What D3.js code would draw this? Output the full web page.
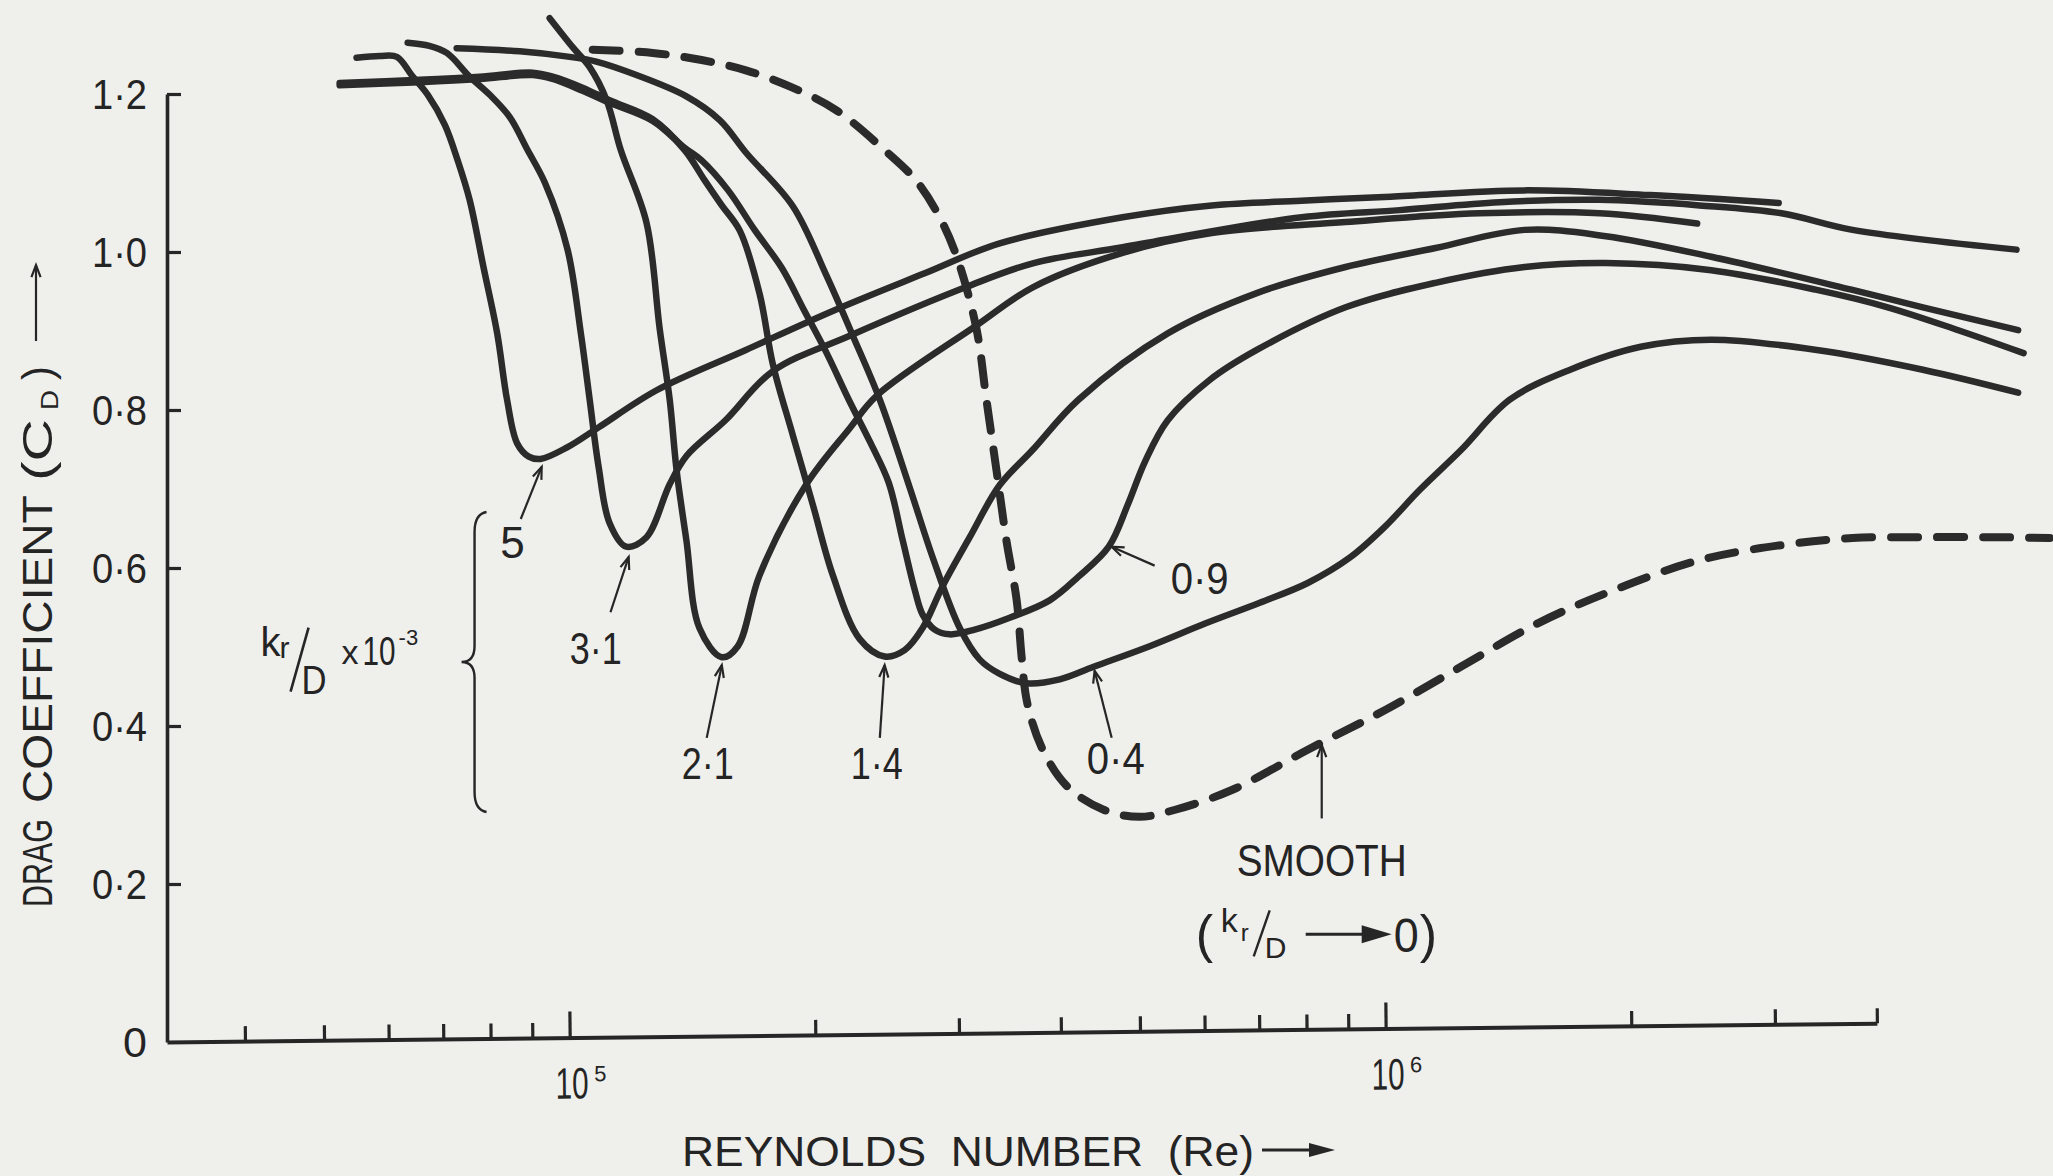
<!DOCTYPE html>
<html>
<head>
<meta charset="utf-8">
<title>Drag coefficient vs Reynolds number</title>
<script src="https://cdn.jsdelivr.net/npm/d3@7"></script>
<style>
  html, body { margin: 0; background: #efefec; }
  svg { display: block; }
  text { font-family: "Liberation Sans", Arial, sans-serif; fill: #242424; }
</style>
</head>
<body>
<div id="chart"></div>
<script>
// Drag coefficient of rough circular cylinders against Reynolds number.
// Points were read off a scanned figure, so they are approximate.

const cdTicks = [0, 0.2, 0.4, 0.6, 0.8, 1.0, 1.2];
const reMinorTicks = [4e4, 5e4, 6e4, 7e4, 8e4, 9e4, 2e5, 3e5, 4e5, 5e5, 6e5, 7e5, 8e5, 9e5, 2e6, 3e6, 4e6];
const reMajorTicks = [1e5, 1e6];
const reExtent = [32100, 4e6];
const cdExtent = [0, 1.2];

// k_r/D x 10^-3, one solid curve each
const roughness = ["5", "3·1", "2·1", "1·4", "0·9", "0·4"];

// [Re, CD]
const kd50 = [
  [54800, 1.246], [58500, 1.248], [61400, 1.247], [64000, 1.224], [67000, 1.199],
  [70300, 1.161], [72900, 1.116], [75400, 1.066], [78400, 0.981], [81500, 0.897],
  [83800, 0.813], [86200, 0.758], [89100, 0.741], [92100, 0.738], [99400, 0.753],
  [108500, 0.778], [127800, 0.825], [164400, 0.876], [211800, 0.927], [272300, 0.973],
  [336500, 1.011], [476000, 1.044], [612000, 1.059], [788000, 1.065], [1014000, 1.070],
  [1479000, 1.078], [2106000, 1.072], [3031000, 1.062]
];
const kd31 = [
  [63300, 1.265], [67300, 1.261], [70700, 1.252], [75400, 1.222], [79800, 1.199],
  [84400, 1.171], [88800, 1.129], [93300, 1.087], [99400, 1.003], [103200, 0.897],
  [105800, 0.813], [108500, 0.728], [111900, 0.657], [117300, 0.627], [124200, 0.639],
  [132600, 0.706], [139100, 0.742], [155200, 0.787], [177300, 0.849], [220400, 0.894],
  [306600, 0.956], [370400, 0.986], [476000, 1.006], [788900, 1.044], [1040000, 1.053],
  [1379000, 1.063], [1828000, 1.066], [2425000, 1.059], [3055000, 1.049], [3733000, 1.028],
  [5929000, 1.003]
];
const kd21 = [
  [94500, 1.296], [100900, 1.259], [105800, 1.234], [111000, 1.192], [115500, 1.129],
  [124200, 1.037], [128900, 0.903], [132600, 0.813], [135200, 0.724], [139000, 0.635],
  [144200, 0.524], [153600, 0.487], [160700, 0.501], [170900, 0.591], [195000, 0.706],
  [220400, 0.777], [237700, 0.818], [315100, 0.907], [370400, 0.956], [476000, 0.999],
  [612000, 1.024], [893000, 1.038], [1303000, 1.049], [1828000, 1.049], [2408000, 1.036]
];
const kd14 = [
  [52250, 1.214], [65520, 1.218], [77580, 1.222], [90100, 1.227], [95300, 1.222],
  [103700, 1.208], [111900, 1.192], [126400, 1.168], [138300, 1.129], [146300, 1.091],
  [153600, 1.059], [161600, 1.027], [170900, 0.947], [177400, 0.858], [187700, 0.768],
  [198600, 0.680], [210100, 0.591], [226700, 0.510], [243200, 0.488], [257300, 0.496],
  [270700, 0.524], [286400, 0.577], [309200, 0.639], [336500, 0.705], [368900, 0.749],
  [420200, 0.813], [540600, 0.897], [695000, 0.948], [893000, 0.981], [1151000, 1.005],
  [1480000, 1.028], [1861000, 1.020], [2506000, 0.994], [3733000, 0.952], [4553000, 0.930],
  [5957000, 0.901]
];
const kd09 = [
  [52250, 1.211], [65520, 1.215], [77580, 1.219], [90100, 1.224], [95300, 1.219],
  [103700, 1.204], [111900, 1.189], [126400, 1.166], [138300, 1.132], [145100, 1.116],
  [156400, 1.078], [168500, 1.028], [181900, 0.980], [193600, 0.927], [206500, 0.872],
  [219800, 0.813], [233800, 0.758], [246000, 0.708], [255900, 0.635], [264800, 0.572],
  [270700, 0.541], [280100, 0.522], [292200, 0.516], [313600, 0.522], [346100, 0.537],
  [387400, 0.559], [420200, 0.589], [457700, 0.627], [482900, 0.680], [506700, 0.734],
  [540600, 0.787], [608500, 0.838], [695000, 0.876], [893000, 0.930], [1151000, 0.961],
  [1480000, 0.981], [1861000, 0.986], [2506000, 0.977], [3375000, 0.952], [4123000, 0.930],
  [5031000, 0.901], [6049000, 0.872]
];
const kd04 = [
  [72690, 1.258], [86850, 1.254], [100000, 1.247], [107800, 1.241], [120700, 1.224],
  [139000, 1.197], [152700, 1.167], [164700, 1.125], [187700, 1.058], [206400, 0.970],
  [222300, 0.894], [239900, 0.813], [261000, 0.702], [278600, 0.613], [300600, 0.524],
  [318100, 0.484], [336500, 0.466], [363100, 0.454], [398600, 0.459], [438600, 0.475],
  [513700, 0.501], [601800, 0.530], [700900, 0.556], [802500, 0.581], [903400, 0.613],
  [997300, 0.652], [1101000, 0.699], [1236000, 0.749], [1419000, 0.813], [1683000, 0.851],
  [2054000, 0.880], [2506000, 0.889], [3375000, 0.876], [4553000, 0.851], [5957000, 0.822]
];
// smooth cylinder (k_r/D -> 0), dashed
const smooth = [
  [106700, 1.256], [126400, 1.252], [145100, 1.243], [164400, 1.230], [186600, 1.209],
  [211800, 1.180], [243200, 1.129], [266000, 1.090], [284000, 1.044], [298100, 0.994],
  [315100, 0.903], [324100, 0.813], [333400, 0.724], [342900, 0.635], [353000, 0.559],
  [358000, 0.487], [363700, 0.429], [379900, 0.370], [407600, 0.323], [451100, 0.294],
  [499400, 0.285], [552100, 0.294], [647800, 0.319], [802500, 0.370], [997300, 0.420],
  [1236000, 0.475], [1536000, 0.530], [1903000, 0.572], [2425000, 0.610], [3057000, 0.629],
  [3733000, 0.638], [4552000, 0.639], [5561000, 0.639], [6512000, 0.638]
];

const roughCurves = [kd50, kd31, kd21, kd14, kd09, kd04];

const W = 2053, H = 1176;
const INK = "#262626";

const svg = d3.select("#chart").append("svg").attr("width", W).attr("height", H);
svg.append("rect").attr("width", W).attr("height", H).attr("fill", "#efefec");

const x = d3.scaleLog().domain(reExtent).range([167, 1877]);
const y = d3.scaleLinear().domain(cdExtent).range([1042, 94]);

// plain text
function txt(g, str, px, py, size, anchor = "start") {
  return g.append("text").attr("x", px).attr("y", py)
    .attr("font-size", size).attr("text-anchor", anchor).text(str);
}

// text squeezed (or stretched) horizontally to a given width, like the narrow hand lettering
function squeeze(g, str, px, py, size, width, anchor = "start") {
  const t = g.append("text").attr("font-size", size).attr("text-anchor", anchor).text(str);
  const natural = t.node().getComputedTextLength() || width;
  t.attr("transform", `translate(${px},${py}) scale(${width / natural},1)`);
  return t;
}

// thin pointer with an open arrow head at (x2, y2)
function pointer(g, x1, y1, x2, y2) {
  g.append("line")
    .attr("x1", x1).attr("y1", y1).attr("x2", x2).attr("y2", y2)
    .attr("stroke", INK).attr("stroke-width", 2.2);
  const a = Math.atan2(y2 - y1, x2 - x1), h = 13, s = 0.36;
  g.append("path")
    .attr("d", `M${x2 - h * Math.cos(a - s)},${y2 - h * Math.sin(a - s)}L${x2},${y2}L${x2 - h * Math.cos(a + s)},${y2 - h * Math.sin(a + s)}`)
    .attr("fill", "none").attr("stroke", INK).attr("stroke-width", 2.2);
}

// arrow with a filled head
function solidArrow(g, x1, yy, x2, head = 26, half = 7) {
  g.append("line").attr("x1", x1).attr("y1", yy).attr("x2", x2 - head + 2).attr("y2", yy)
    .attr("stroke", INK).attr("stroke-width", 3);
  g.append("path").attr("d", `M${x2 - head},${yy - half}L${x2},${yy}L${x2 - head},${yy + half}Z`)
    .attr("fill", INK);
}

// ---- x axis (the hand-drawn baseline rises a little to the right) ----
const xAxisG = svg.append("g").attr("transform", `rotate(-0.63, 167, ${y(0)})`);
const xg = xAxisG.append("g").attr("transform", `translate(0,${y(0)})`);
xg.call(d3.axisTop(x).tickValues(reMinorTicks).tickSize(15).tickSizeOuter(0).tickFormat(""));
xg.append("g")
  .call(d3.axisTop(x).tickValues(reMajorTicks).tickSize(26).tickSizeOuter(0).tickFormat(""))
  .select(".domain").remove();
xg.selectAll(".domain").attr("stroke", INK).attr("stroke-width", 4);
xg.selectAll(".tick line").attr("stroke", INK).attr("stroke-width", 3.2);

reMajorTicks.forEach(v => {
  squeeze(xg, "10", x(v) + 2, 61, 44, 33, "middle");
  txt(xg, String(Math.round(Math.log10(v))), x(v) + 24, 44, 22);
});

// ---- y axis ----
const yg = svg.append("g").attr("transform", "translate(167,0)");
yg.call(d3.axisRight(y).tickValues(cdTicks.filter(d => d > 0)).tickSize(14).tickSizeOuter(0).tickFormat(""));
yg.selectAll(".domain").attr("stroke", INK).attr("stroke-width", 3.6);
yg.selectAll(".tick line").attr("stroke", INK).attr("stroke-width", 3.2);

cdTicks.forEach(d => {
  if (d === 0) { txt(svg, "0", 147, y(d) + 15, 43, "end"); return; }
  squeeze(svg, d3.format(".1f")(d).replace(".", "·"), 147, y(d) + 15, 43, 55, "end");
});

// ---- axis titles ----
const yTitle = svg.append("g").attr("transform", "translate(52,907) rotate(-90)");
squeeze(yTitle, "DRAG", 0, 0, 42, 88);
squeeze(yTitle, "COEFFICIENT", 104, 0, 42, 308);
squeeze(yTitle, "(C", 426, 0, 42, 62);
squeeze(yTitle, "D", 497, 6, 24, 20);
txt(yTitle, ")", 527, 0, 42);
pointer(yTitle, 566, -16, 642, -16);

squeeze(svg, "REYNOLDS\u00a0\u00a0NUMBER\u00a0\u00a0(Re)", 682, 1166, 43, 572);
solidArrow(svg, 1262, 1150, 1335);

// ---- curves ----
const line = d3.line()
  .x(d => x(d[0]))
  .y(d => y(d[1]))
  .curve(d3.curveCatmullRom.alpha(0.5));

svg.append("g").selectAll("path")
  .data(roughCurves)
  .enter()
  .append("path")
  .attr("d", line)
  .attr("fill", "none")
  .attr("stroke", "#2b2b2b")
  .attr("stroke-width", 6.5)
  .attr("stroke-linecap", "round")
  .attr("stroke-linejoin", "round");

svg.append("path")
  .attr("d", line(smooth))
  .attr("fill", "none")
  .attr("stroke", "#2b2b2b")
  .attr("stroke-width", 8)
  .attr("stroke-linecap", "round")
  .attr("stroke-dasharray", "27 19");

// ---- curve labels: [label Re, label CD, pointer tail, pointer tip] ----
const labelSpots = [
  [85100, 0.614, [87100, 0.662], [92400, 0.728]],
  [107600, 0.480, [112200, 0.544], [118100, 0.614]],
  [147600, 0.334, [147200, 0.385], [153600, 0.477]],
  [237800, 0.334, [239900, 0.385], [243200, 0.477]],
  [591600, 0.568, [521000, 0.603], [461500, 0.627]],
  [466800, 0.341, [461500, 0.385], [439800, 0.470]]
];
const ann = svg.append("g");
roughness.forEach((name, i) => {
  const [re, cd, tail, tip] = labelSpots[i];
  const wide = name === "0·9" || name === "0·4";
  if (name.length > 1) squeeze(ann, name, x(re), y(cd) + 1, 44, wide ? 58 : 52, "middle");
  else txt(ann, name, x(re), y(cd) + 1, 44, "middle");
  pointer(ann, x(tail[0]), y(tail[1]), x(tip[0]), y(tip[1]));
});

// smooth label
squeeze(ann, "SMOOTH", x(834800), y(0.211) + 1, 44, 170, "middle");
pointer(ann, x(834800), y(0.283), x(834800), y(0.376));

const lim = ann.append("g").attr("transform", `translate(${x(585000)},${y(0.116)})`);
txt(lim, "(", 0, 2, 52);
txt(lim, "k", 25, -18, 34);
txt(lim, "r", 45, -9, 24);
lim.append("line").attr("x1", 58).attr("y1", 6).attr("x2", 74).attr("y2", -40)
  .attr("stroke", INK).attr("stroke-width", 2.4);
txt(lim, "D", 69, 8, 30);
solidArrow(lim, 110, -16, 196, 30, 9);
squeeze(lim, "0", 198, 2, 48, 25);
txt(lim, ")", 224, 2, 52);

// k_r/D x 10^-3 with a brace around the roughness labels
const kd = ann.append("g").attr("transform", `translate(${x(41800)},${y(0.489)})`);
txt(kd, "k", 0, 0, 40);
txt(kd, "r", 19, 2, 30);
kd.append("line").attr("x1", 30).attr("y1", 36).attr("x2", 48).attr("y2", -28)
  .attr("stroke", INK).attr("stroke-width", 2.6);
squeeze(kd, "D", 41, 38, 40, 25);
txt(kd, "x", 81, 8, 34);
squeeze(kd, "10", 102, 9, 40, 33);
txt(kd, "-3", 138, -11, 22);

const bx = x(73700), by = y(0.481);
ann.append("path")
  .attr("d", `M${bx + 25},${by - 150} Q${bx + 13},${by - 148} ${bx + 13},${by - 130} L${bx + 13},${by - 16} Q${bx + 13},${by} ${bx},${by} Q${bx + 13},${by} ${bx + 13},${by + 16} L${bx + 13},${by + 130} Q${bx + 13},${by + 148} ${bx + 25},${by + 150}`)
  .attr("fill", "none").attr("stroke", INK).attr("stroke-width", 2.4);
</script>
</body>
</html>
